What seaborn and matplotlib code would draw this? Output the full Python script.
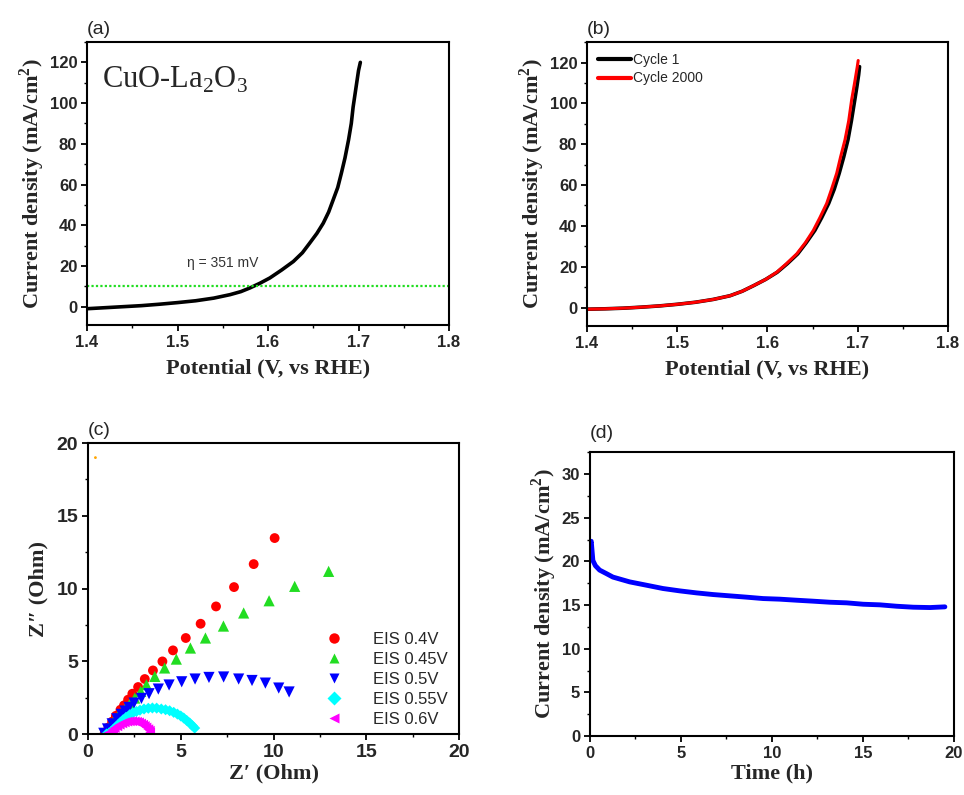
import numpy as np
import pandas as pd
import seaborn as sns
import matplotlib
matplotlib.use("Agg")
import matplotlib.pyplot as plt
from matplotlib.ticker import MultipleLocator
from matplotlib.lines import Line2D

# ---------------- data ----------------
# (a) LSV of CuO-La2O3
pot_a = [1.400, 1.420, 1.440, 1.460, 1.480, 1.500, 1.520, 1.540, 1.558, 1.570, 1.580,
         1.591, 1.602, 1.615, 1.628, 1.638, 1.646, 1.654, 1.661, 1.667, 1.672, 1.677,
         1.681, 1.685, 1.689, 1.692, 1.694, 1.697, 1.700, 1.702]
j_a = [-1.0, -0.5, 0.0, 0.5, 1.2, 2.0, 2.9, 4.2, 5.9, 7.4, 9.2,
       11.5, 14.1, 18.0, 22.2, 26.5, 31.2, 36.0, 41.0, 46.5, 52.5, 58.5,
       65.5, 73.0, 82.0, 90.0, 98.0, 107.0, 116.0, 120.0]
eta_level = 10

# (b) cycling stability
pot_c1 = [1.400, 1.420, 1.440, 1.460, 1.480, 1.500, 1.520, 1.540, 1.5585, 1.572, 1.5845,
          1.598, 1.6108, 1.622, 1.6335, 1.643, 1.6525, 1.660, 1.6678, 1.674, 1.6795, 1.6845,
          1.6892, 1.693, 1.6968, 1.699, 1.7010, 1.7020]
j_c1 = [-0.8, -0.6, -0.3, 0.2, 0.8, 1.6, 2.6, 4.0, 5.8, 8.0, 10.7,
        13.8, 17.3, 21.5, 26.3, 31.8, 37.8, 44.0, 51.0, 58.0, 65.8, 73.8,
        82.2, 91.5, 101.9, 108.0, 114.0, 118.0]
pot_c2000 = [1.400, 1.420, 1.440, 1.460, 1.480, 1.500, 1.520, 1.540, 1.5585, 1.572, 1.5843,
             1.598, 1.6102, 1.621, 1.6324, 1.642, 1.6508, 1.658, 1.6656, 1.671, 1.6767, 1.681,
             1.6859, 1.690, 1.6933, 1.6965, 1.6995, 1.7005]
j_c2000 = [-0.8, -0.6, -0.3, 0.2, 0.8, 1.6, 2.6, 4.0, 5.8, 8.0, 10.7,
           13.8, 17.3, 21.5, 26.3, 31.8, 37.8, 44.0, 51.0, 58.0, 65.8, 73.8,
           82.2, 91.5, 101.9, 110.0, 118.0, 121.0]

# (c) Nyquist plots
zr_04 = [0.9, 1.1, 1.3, 1.5, 1.75, 1.94, 2.16, 2.39, 2.70, 3.06, 3.50, 4.01, 4.58, 5.27, 6.07, 6.90, 7.87, 8.93, 10.06]
zi_04 = [0.05, 0.45, 0.85, 1.25, 1.67, 1.97, 2.36, 2.77, 3.23, 3.78, 4.37, 4.99, 5.75, 6.60, 7.58, 8.77, 10.10, 11.68, 13.47]
zr_045 = [0.9, 1.1, 1.35, 1.6, 1.82, 2.02, 2.25, 2.52, 2.84, 3.15, 3.60, 4.13, 4.76, 5.52, 6.33, 7.30, 8.39, 9.76, 11.14, 12.97]
zi_045 = [0.05, 0.4, 0.8, 1.2, 1.5, 1.79, 2.08, 2.47, 2.93, 3.39, 3.96, 4.54, 5.15, 5.91, 6.60, 7.42, 8.32, 9.16, 10.15, 11.18]
zr_05 = [0.85, 1.05, 1.3, 1.55, 1.8, 2.0, 2.21, 2.48, 2.88, 3.29, 3.79, 4.37, 5.05, 5.77, 6.52, 7.31, 8.12, 8.84, 9.56, 10.28, 10.84]
zi_05 = [0.05, 0.35, 0.7, 1.05, 1.35, 1.58, 1.83, 2.13, 2.45, 2.77, 3.09, 3.37, 3.59, 3.78, 3.89, 3.92, 3.78, 3.68, 3.50, 3.16, 2.89]
zr_055 = [1.0, 1.13, 1.25, 1.35, 1.48, 1.62, 1.75, 1.89, 2.05, 2.25, 2.42, 2.61, 2.80, 3.02, 3.25, 3.47,
          3.70, 3.95, 4.18, 4.40, 4.62, 4.82, 5.00, 5.16, 5.32, 5.48, 5.62, 5.75]
zi_055 = [0.0, 0.07, 0.18, 0.3, 0.47, 0.64, 0.81, 0.98, 1.15, 1.33, 1.45, 1.55, 1.64, 1.72, 1.77, 1.79,
          1.78, 1.72, 1.67, 1.60, 1.49, 1.37, 1.24, 1.10, 0.93, 0.76, 0.58, 0.41]
zr_06 = [1.0, 1.12, 1.26, 1.35, 1.44, 1.58, 1.71, 1.85, 1.98, 2.12, 2.25, 2.38, 2.52, 2.64, 2.75, 2.86, 2.97, 3.06, 3.15, 3.25, 3.33, 3.35]
zi_06 = [0.0, 0.08, 0.18, 0.3, 0.41, 0.53, 0.64, 0.73, 0.80, 0.85, 0.87, 0.88, 0.87, 0.84, 0.80, 0.72, 0.64, 0.55, 0.45, 0.33, 0.23, 0.1]
stray_zr = [0.4]
stray_zi = [19.0]

# (d) chronoamperometry
time_h = [0.0, 0.07, 0.16, 0.3, 0.53, 0.9, 1.26, 2.18, 3.1, 4.01, 4.93, 5.85, 6.76, 7.68, 8.6,
          9.51, 10.43, 11.35, 12.26, 13.18, 14.1, 15.01, 15.93, 16.85, 17.76, 18.68, 19.5]
j_t = [22.0, 22.3, 20.1, 19.5, 19.0, 18.6, 18.2, 17.65, 17.27, 16.89, 16.62, 16.39, 16.2, 16.05, 15.9,
       15.74, 15.67, 15.55, 15.44, 15.32, 15.25, 15.09, 15.02, 14.86, 14.75, 14.71, 14.79]

eis_labels = ["EIS 0.4V", "EIS 0.45V", "EIS 0.5V", "EIS 0.55V", "EIS 0.6V"]

# ---------------- style ----------------
sns.set_theme(style="ticks")
plt.rcParams["font.family"] = ["Liberation Sans", "DejaVu Sans"]
plt.rcParams["mathtext.fontset"] = "custom"
plt.rcParams["mathtext.rm"] = "Liberation Serif"
plt.rcParams["mathtext.bf"] = "Liberation Serif:bold"

SERIF = ["Liberation Serif", "DejaVu Serif"]
LABEL_KW = dict(family=SERIF, fontweight="bold", fontsize=16)

fig = plt.figure(figsize=(9.64, 7.95), dpi=100)
ax_a = fig.add_axes([0.0903, 0.5912, 0.3755, 0.356])
ax_b = fig.add_axes([0.6089, 0.5900, 0.3745, 0.357])
ax_c = fig.add_axes([0.0913, 0.0767, 0.3849, 0.366])
ax_d = fig.add_axes([0.6120, 0.0742, 0.3776, 0.357])


def style_axes(ax, labelsize=12):
    for s in ax.spines.values():
        s.set_visible(True)
        s.set_color("black")
        s.set_linewidth(1.5)
    ax.tick_params(which="major", direction="out", length=4, width=1.3, color="black",
                   labelsize=labelsize, pad=3)
    ax.tick_params(which="minor", direction="out", length=2.5, width=1.0, color="black")
    ax.tick_params(top=False, right=False)
    for lab in ax.get_xticklabels() + ax.get_yticklabels():
        lab.set_fontweight("bold")
        lab.set_family(["Liberation Sans", "DejaVu Sans"])
    ax.set_facecolor("white")


ylab = r"Current density (mA/cm$^{\mathbf{2}}$)"

# (a)
sns.lineplot(x=pot_a, y=j_a, ax=ax_a, color="black", lw=2.6, sort=False, estimator=None)
ax_a.axhline(eta_level, color="#22dd22", lw=1.6, ls=(0, (1, 1)))
ax_a.set_xlim(1.4, 1.8)
ax_a.set_ylim(-9, 130)
ax_a.set_xticks([1.4, 1.5, 1.6, 1.7, 1.8])
ax_a.set_xticklabels(["1.4", "1.5", "1.6", "1.7", "1.8"])
ax_a.xaxis.set_minor_locator(MultipleLocator(0.05))
ax_a.yaxis.set_major_locator(MultipleLocator(20))
ax_a.yaxis.set_minor_locator(MultipleLocator(10))
ax_a.set_xlabel("Potential (V, vs RHE)", **LABEL_KW, labelpad=6)
ax_a.set_ylabel(ylab, **LABEL_KW, labelpad=2)
ax_a.text(0.04, 0.92, r"CuO-La$_\mathrm{2}$O$_\mathrm{3}$", transform=ax_a.transAxes,
          family=SERIF, fontsize=22, va="top", ha="left")
ax_a.text(1.51, 19.5, "η = 351 mV", fontsize=10, color="#333333")
style_axes(ax_a)

# (b)
sns.lineplot(x=pot_c1, y=j_c1, ax=ax_b, color="black", lw=2.6, sort=False, estimator=None,
             label="Cycle 1")
sns.lineplot(x=pot_c2000, y=j_c2000, ax=ax_b, color="red", lw=2.2, sort=False, estimator=None,
             label="Cycle 2000")
ax_b.set_xlim(1.4, 1.8)
ax_b.set_ylim(-9, 130)
ax_b.set_xticks([1.4, 1.5, 1.6, 1.7, 1.8])
ax_b.set_xticklabels(["1.4", "1.5", "1.6", "1.7", "1.8"])
ax_b.xaxis.set_minor_locator(MultipleLocator(0.05))
ax_b.yaxis.set_major_locator(MultipleLocator(20))
ax_b.yaxis.set_minor_locator(MultipleLocator(10))
ax_b.set_xlabel("Potential (V, vs RHE)", **LABEL_KW, labelpad=6)
ax_b.set_ylabel(ylab, **LABEL_KW, labelpad=2)
leg = ax_b.legend(loc="upper left", frameon=False, fontsize=10, handlelength=2.4,
                  handletextpad=0.1, borderaxespad=0.4, labelspacing=0.3)
for line in leg.get_lines():
    line.set_linewidth(3)
style_axes(ax_b)

# (c)
eis_sets = [(zr_04, zi_04, "red", "o", 50),
            (zr_045, zi_045, "#22dd22", "^", 65),
            (zr_05, zi_05, "blue", "v", 65),
            (zr_055, zi_055, "cyan", "D", 32),
            (zr_06, zi_06, "magenta", "<", 50)]
handles = []
for (zr, zi, col, mk, sz), lab in zip(eis_sets, eis_labels):
    sns.scatterplot(x=zr, y=zi, ax=ax_c, color=col, marker=mk, s=sz, edgecolor="none", linewidth=0)
    handles.append(Line2D([], [], ls="none", marker=mk, color=col, markeredgecolor="none",
                          markersize=7.5, label=lab))
sns.scatterplot(x=stray_zr, y=stray_zi, ax=ax_c, color="orange", s=4, edgecolor="none")
ax_c.set_xlim(0, 20)
ax_c.set_ylim(0, 20)
ax_c.xaxis.set_major_locator(MultipleLocator(5))
ax_c.yaxis.set_major_locator(MultipleLocator(5))
ax_c.xaxis.set_minor_locator(MultipleLocator(2.5))
ax_c.yaxis.set_minor_locator(MultipleLocator(2.5))
ax_c.set_xlabel("Z′ (Ohm)", **LABEL_KW, labelpad=2)
ax_c.set_ylabel("Z″ (Ohm)", **LABEL_KW, labelpad=6)
ax_c.legend(handles=handles, loc="lower right", frameon=False, fontsize=12,
            handletextpad=1.3, labelspacing=0.3, borderaxespad=0.3,
            bbox_to_anchor=(1.0, -0.015))
style_axes(ax_c, labelsize=14)

# (d)
sns.lineplot(x=time_h, y=j_t, ax=ax_d, color="blue", lw=3.5, sort=False, estimator=None)
ax_d.set_xlim(0, 20)
ax_d.set_ylim(0, 32.5)
ax_d.xaxis.set_major_locator(MultipleLocator(5))
ax_d.xaxis.set_minor_locator(MultipleLocator(2.5))
ax_d.yaxis.set_major_locator(MultipleLocator(5))
ax_d.yaxis.set_minor_locator(MultipleLocator(2.5))
ax_d.set_xlabel("Time (h)", **LABEL_KW, labelpad=2)
ax_d.set_ylabel(ylab, **LABEL_KW, labelpad=2)
style_axes(ax_d)

# panel letters
for ax, letter, dy in [(ax_a, "(a)", 0.015), (ax_b, "(b)", 0.015), (ax_c, "(c)", 0.015), (ax_d, "(d)", 0.035)]:
    ax.text(0.0, 1.0 + dy, letter, transform=ax.transAxes, fontsize=14, ha="left", va="bottom")

fig.savefig("out.png", dpi=100, facecolor="white")
